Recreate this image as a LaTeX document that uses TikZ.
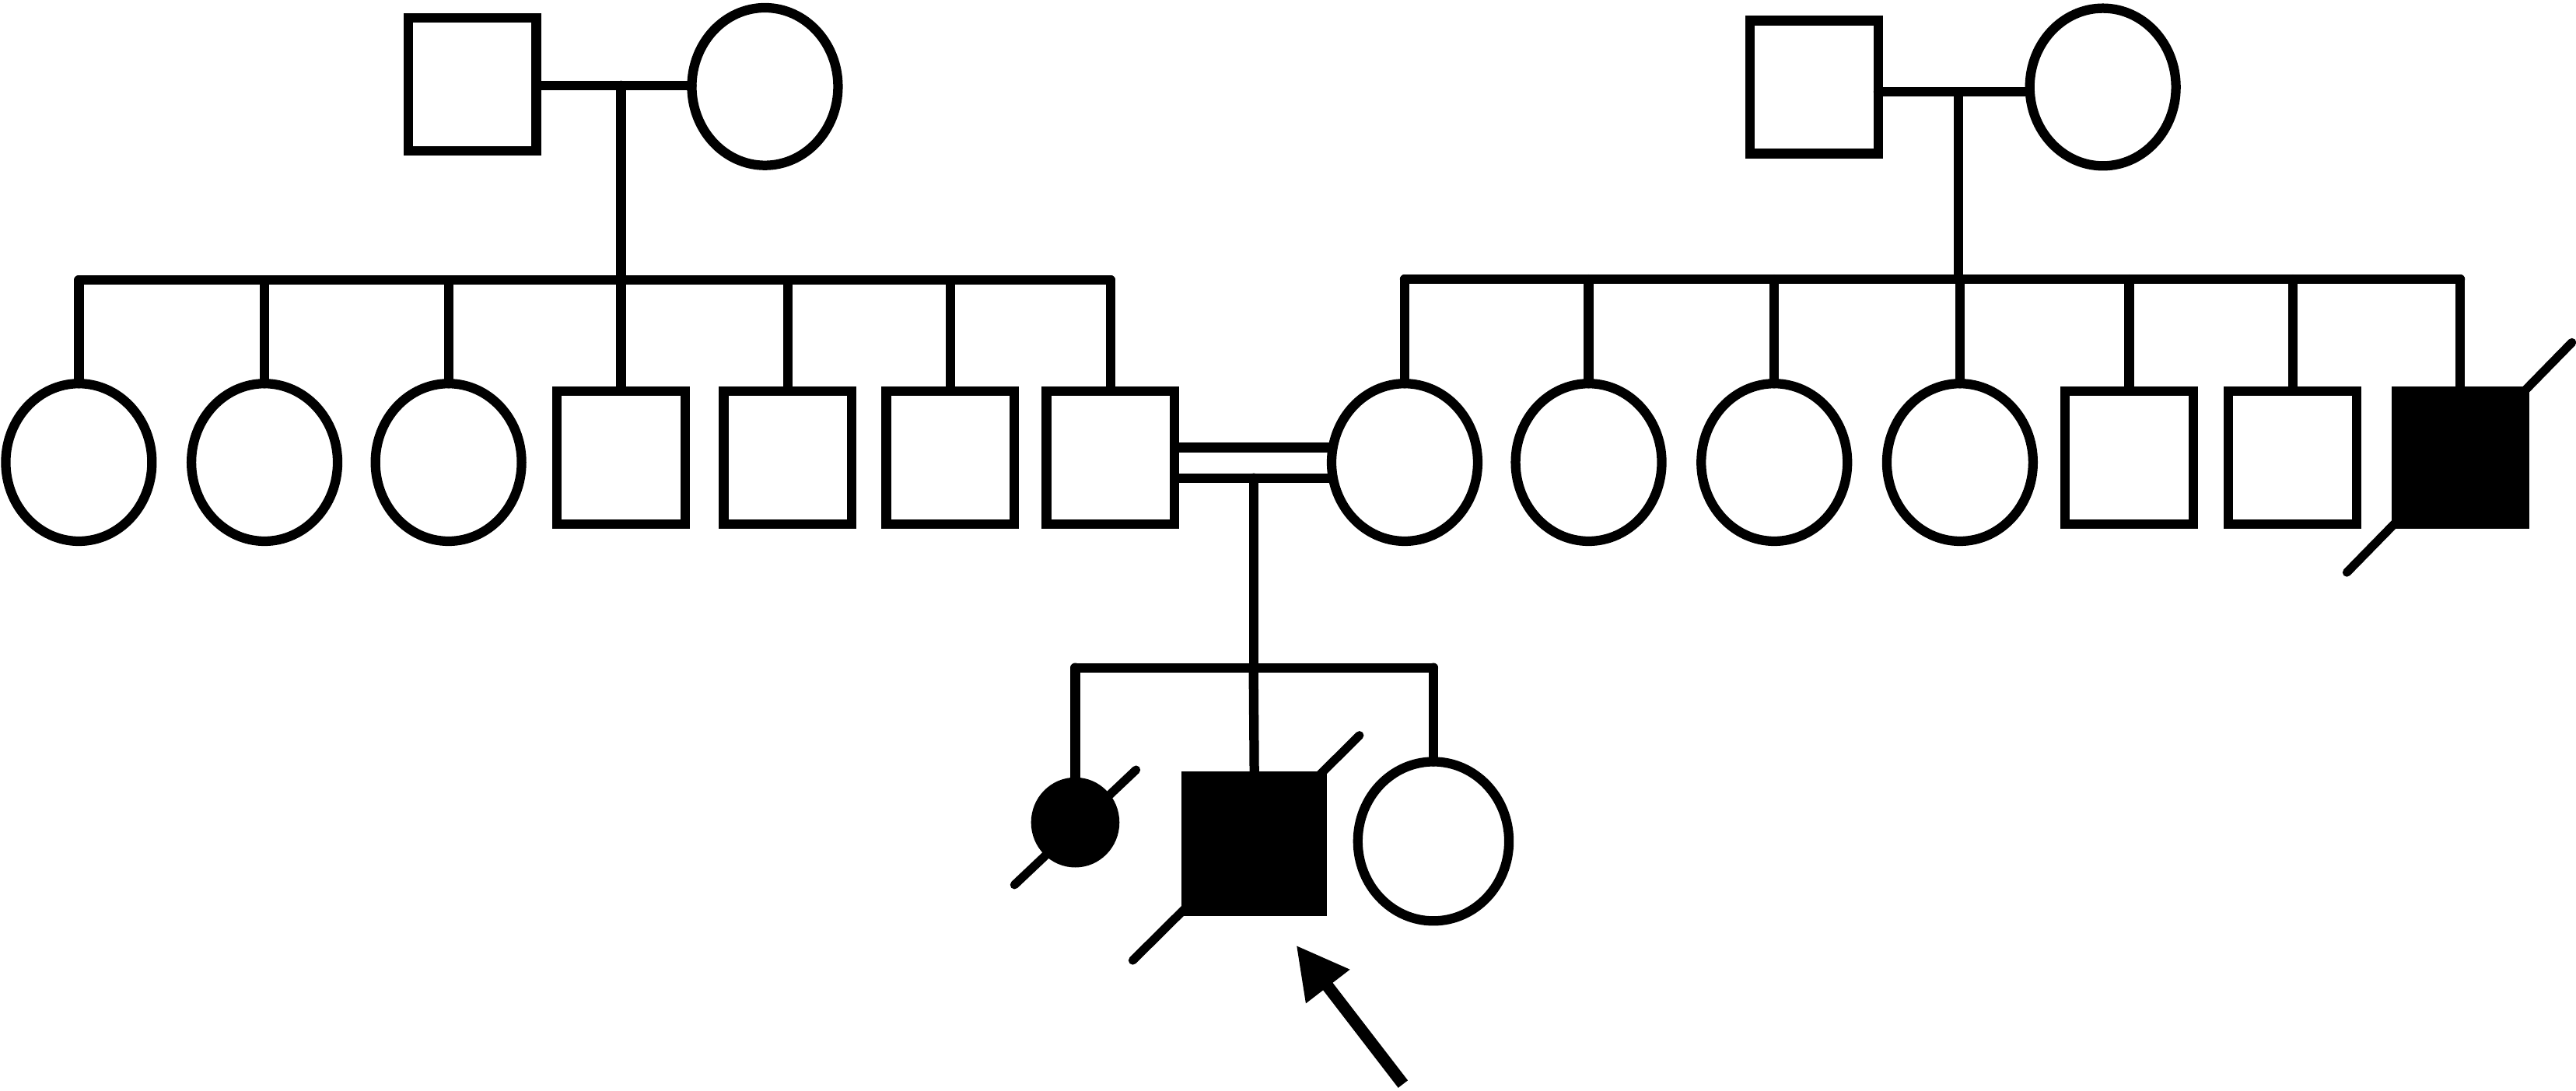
\documentclass[tikz,border=0pt]{standalone}
\usetikzlibrary{shapes.geometric,arrows.meta}
\begin{document}
\begin{tikzpicture}[x=0.02cm,y=-0.02cm,
  lw/.style={line width=3.3pt},
  male/.style={rectangle,draw,lw,inner sep=0pt,outer sep=0pt,minimum width=1.56cm,minimum height=1.62cm},
  female/.style={ellipse,draw,lw,inner sep=0pt,outer sep=0pt,minimum width=1.78cm,minimum height=1.92cm},
  affected/.style={fill=black},
  link/.style={lw,line cap=round},
  slash/.style={line width=3pt,line cap=round}]
\useasboundingbox (0,0) rectangle (1568,664);

% generation I, left
\node[male] (f1) at (287.4,51.5) {};
\node[female] (m1) at (465.6,52.7) {};
\coordinate (u1) at (378,52);
\coordinate (s1) at (378,170.5);
\draw[link] (f1.east |- u1) -- (m1.west |- u1);
\draw[link] (u1) -- (s1);

% generation I, right
\node[male] (f2) at (1104.3,53) {};
\node[female] (m2) at (1280,53) {};
\coordinate (u2) at (1192,56);
\coordinate (s2) at (1192,170);
\draw[link] (f2.east |- u2) -- (m2.west |- u2);
\draw[link] (u2) -- (s2);

% generation II, left sibship
\node[female] (a1) at (48,281.5) {};
\node[female] (a2) at (161,281.5) {};
\node[female] (a3) at (273,281.5) {};
\node[male] (a4) at (378,278.5) {};
\node[male] (a5) at (479.5,278.5) {};
\node[male] (a6) at (578.5,278.5) {};
\node[male] (a7) at (676,278.5) {};
\draw[link] (a1.north |- s1) -- (a7.north |- s1);
\foreach \n in {a1,a2,a3,a4,a5,a6,a7} \draw[link] (\n.north |- s1) -- (\n.north);

% generation II, right sibship
\node[female] (b1) at (855,281.5) {};
\node[female] (b2) at (967,281.5) {};
\node[female] (b3) at (1080,281.5) {};
\node[female] (b4) at (1193,281.5) {};
\node[male] (b5) at (1296,278.5) {};
\node[male] (b6) at (1395.5,278.5) {};
\node[male,affected] (b7) at (1497.5,278.5) {};
\draw[link] (b1.north |- s2) -- (b7.north |- s2);
\foreach \n in {b1,b2,b3,b4,b5,b6,b7} \draw[link] (\n.north |- s2) -- (\n.north);
\draw[slash] ([shift={(-69,70)}]b7.center) -- ([shift={(68,-70)}]b7.center);

% consanguineous union
\coordinate (dt) at (763,272.5);
\coordinate (db) at (763,291);
\coordinate (s3) at (763,406.5);
\draw[link] (a7.east |- dt) -- (b1.west |- dt);
\draw[link] (a7.east |- db) -- (b1.west |- db);
\draw[link] (db) -- (s3);

% generation III
\node[ellipse,draw,lw,affected,inner sep=0pt,outer sep=0pt,minimum width=0.96cm,minimum height=0.98cm] (c1) at (654.5,500.7) {};
\node[male,affected,minimum width=1.65cm,minimum height=1.65cm] (c2) at (763.5,513.7) {};
\node[female,minimum width=1.84cm,minimum height=1.94cm] (c3) at (872.5,512.2) {};
\draw[link] (c1.north |- s3) -- (c3.north |- s3);
\foreach \n in {c1,c3} \draw[link] (\n.north |- s3) -- (\n.north);
\draw[link] (s3) -- (c2.north);
\draw[slash] ([shift={(-37,38)}]c1.center) -- ([shift={(37,-32)}]c1.center);
\draw[slash] ([shift={(-74,71)}]c2.center) -- ([shift={(64,-66)}]c2.center);

% proband arrow
\coordinate (tail) at (854,660);
\coordinate (tip) at (789,575.5);
\draw[line width=4.2pt,-{Triangle[length=18pt,width=18pt]}] (tail) -- (tip);
\end{tikzpicture}
\end{document}
